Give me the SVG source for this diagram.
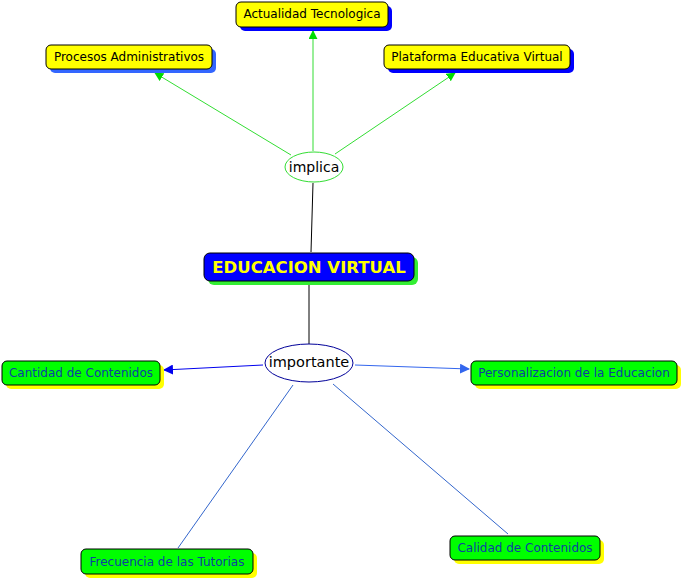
<svg xmlns="http://www.w3.org/2000/svg" width="683" height="580" viewBox="0 0 683 580">
<defs>
<style>
.t{font-family:"DejaVu Sans",Verdana,sans-serif;font-size:12px;text-anchor:middle;dominant-baseline:central}
.y{fill:#ffff00;stroke:#000;stroke-width:1}
.g{fill:#00ff00;stroke:#000;stroke-width:1}
.gt{fill:#0d3fa0}
.bs{fill:#0000ff}
.ys{fill:#ffff00}
</style>
<marker id="ag" viewBox="0 0 10 10" refX="9" refY="5" markerWidth="9" markerHeight="9" markerUnits="userSpaceOnUse" orient="auto"><path d="M0,0L10,5L0,10z" fill="#00dd00"/></marker>
<marker id="ab" viewBox="0 0 10 10" refX="9" refY="5" markerWidth="10" markerHeight="10" markerUnits="userSpaceOnUse" orient="auto"><path d="M0,0L10,5L0,10z" fill="#0000ee"/></marker>
<marker id="al" viewBox="0 0 10 10" refX="9" refY="5" markerWidth="10" markerHeight="10" markerUnits="userSpaceOnUse" orient="auto"><path d="M0,0L10,5L0,10z" fill="#3366ee"/></marker>
</defs>
<rect width="683" height="580" fill="#fff"/>
<g id="connectors" fill="none">
<line x1="313" y1="151" x2="313" y2="31" stroke="#33dd33" marker-end="url(#ag)"/>
<line x1="291" y1="155" x2="155" y2="73" stroke="#33dd33" marker-end="url(#ag)"/>
<line x1="335" y1="154" x2="455" y2="73" stroke="#33dd33" marker-end="url(#ag)"/>
<line x1="313" y1="183" x2="311" y2="252" stroke="#000"/>
<line x1="309" y1="283" x2="309" y2="344" stroke="#000"/>
<line x1="263" y1="365" x2="164" y2="370" stroke="#0000ee" marker-end="url(#ab)"/>
<line x1="355" y1="365" x2="469" y2="369" stroke="#3366ee" marker-end="url(#al)"/>
<line x1="293" y1="385" x2="178" y2="548" stroke="#3366cc"/>
<line x1="333" y1="384" x2="508" y2="534" stroke="#3366cc"/>
</g>
<g id="actualidad">
<rect x="240" y="6" width="152" height="25" rx="5" class="bs"/>
<rect x="236" y="2" width="152" height="25" rx="5" class="y"/>
<text x="312" y="14" class="t">Actualidad Tecnologica</text>
</g>
<g id="procesos">
<rect x="50" y="49" width="166" height="24" rx="5" fill="#3366ff"/>
<rect x="46" y="45" width="166" height="24" rx="5" class="y"/>
<text x="129" y="57" class="t">Procesos Administrativos</text>
</g>
<g id="plataforma">
<rect x="388" y="49" width="186" height="24" rx="5" class="bs"/>
<rect x="384" y="45" width="186" height="24" rx="5" class="y"/>
<text x="477" y="57" class="t">Plataforma Educativa Virtual</text>
</g>
<g id="implica">
<ellipse cx="314" cy="167" rx="29" ry="15" fill="#fff" stroke="#33dd33"/>
<text x="314" y="166.5" class="t" style="font-size:14px">implica</text>
</g>
<g id="educacion">
<rect x="208" y="257" width="210" height="28" rx="6" fill="#33ee33"/>
<rect x="204" y="253" width="210" height="28" rx="6" fill="#0000ff" stroke="#000"/>
<text x="309" y="267" class="t" style="font-size:16.5px;font-weight:bold;fill:#ffff00">EDUCACION VIRTUAL</text>
</g>
<g id="importante">
<ellipse cx="309" cy="363" rx="44" ry="19" fill="#fff" stroke="#000099"/>
<text x="309" y="362" class="t" style="font-size:14.5px">importante</text>
</g>
<g id="cantidad">
<rect x="6" y="365" width="158" height="24" rx="5" class="ys"/>
<rect x="2" y="361" width="158" height="24" rx="5" class="g"/>
<text x="81" y="373" class="t gt">Cantidad de Contenidos</text>
</g>
<g id="personalizacion">
<rect x="475" y="365" width="206" height="24" rx="5" class="ys"/>
<rect x="471" y="361" width="206" height="24" rx="5" class="g"/>
<text x="574" y="373" class="t gt">Personalizacion de la Educacion</text>
</g>
<g id="frecuencia">
<rect x="85" y="553" width="172" height="25" rx="5" class="ys"/>
<rect x="81" y="549" width="172" height="25" rx="5" class="g"/>
<text x="167" y="561.5" class="t gt">Frecuencia de las Tutorias</text>
</g>
<g id="calidad">
<rect x="454" y="540" width="150" height="24" rx="5" class="ys"/>
<rect x="450" y="536" width="150" height="24" rx="5" class="g"/>
<text x="525" y="548" class="t gt">Calidad de Contenidos</text>
</g>
</svg>
